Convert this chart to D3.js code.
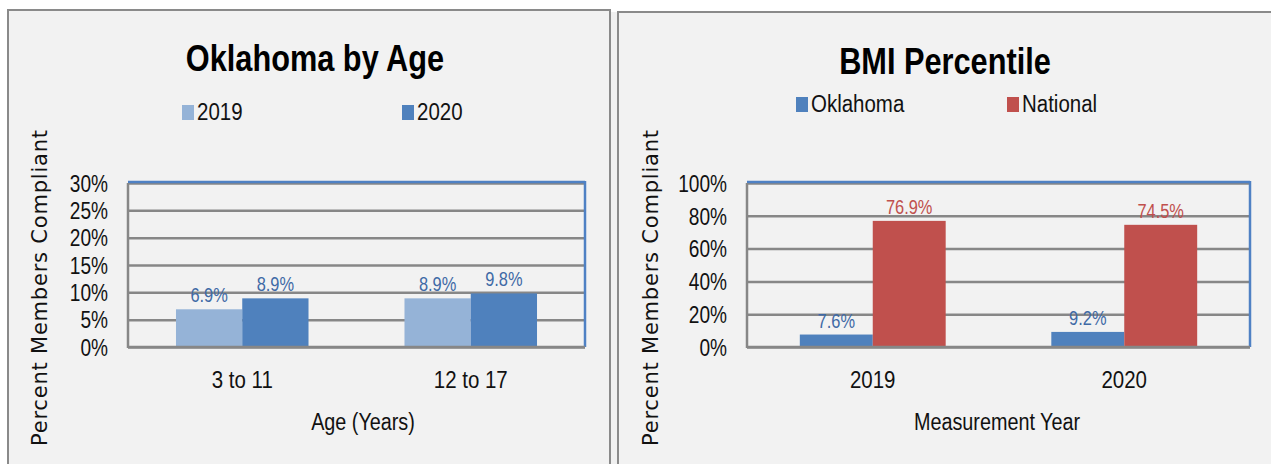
<!DOCTYPE html>
<html>
<head>
<meta charset="utf-8">
<script src="https://cdn.jsdelivr.net/npm/d3@7"></script>
<style>
  body { margin: 0; background: #fff; }
  svg text { font-family: "Liberation Sans", Arial, sans-serif; }
</style>
</head>
<body>
<div class="container"></div>
<script>
// chart 1 data
let ageGroups = ['3 to 11', '12 to 17']
let ageSeries = ['2019', '2020']
let age2019 = [6.9, 8.9]
let age2020 = [8.9, 9.8]
let ageTicks = [0, 5, 10, 15, 20, 25, 30]

// chart 2 data
let bmiYears = ['2019', '2020']
let bmiSeries = ['Oklahoma', 'National']
let bmiOklahoma = [7.6, 9.2]
let bmiNational = [76.9, 74.5]
let bmiTicks = [0, 20, 40, 60, 80, 100]

let svg = d3.select('.container')
    .append('svg')
    .attr('width', 1271)
    .attr('height', 464)

// squeeze text horizontally, the original font is a narrow one
function condense(sel, k) {
    sel.each(function () {
        let len = this.getComputedTextLength()
        d3.select(this)
            .attr('textLength', len * k)
            .attr('lengthAdjust', 'spacingAndGlyphs')
    })
}

// panel backgrounds
svg.append('rect').attr('x', 611).attr('y', 12).attr('width', 6).attr('height', 460).attr('fill', '#f0f0f0')
svg.append('rect')
    .attr('x', 8).attr('y', 10).attr('width', 602).attr('height', 470)
    .attr('fill', '#f2f2f2').attr('stroke', '#8a8a8a').attr('stroke-width', 2)
svg.append('rect')
    .attr('x', 618).attr('y', 12).attr('width', 680).attr('height', 470)
    .attr('fill', '#f2f2f2').attr('stroke', '#8a8a8a').attr('stroke-width', 2)

function drawChart(cfg) {
    let g = svg.append('g')
    let p = cfg.plot

    let x0 = d3.scaleBand()
        .domain(cfg.categories)
        .range([p.left, p.right])
        .paddingInner(0.42)
        .paddingOuter(0.21)
    let x1 = d3.scaleBand()
        .domain(cfg.series)
        .range([0, x0.bandwidth()])
    let y = d3.scaleLinear()
        .domain([0, cfg.max])
        .range([p.bottom, p.top])

    // gridlines
    let yAxis = d3.axisLeft(y)
        .tickValues(cfg.ticks)
        .tickSize(-(p.right - p.left))
        .tickPadding(20)
        .tickFormat(d => d + '%')
    let ax = g.append('g')
        .attr('transform', `translate(${p.left},0)`)
        .call(yAxis)
    ax.select('.domain').remove()
    ax.selectAll('.tick line')
        .attr('stroke', '#878787')
        .attr('stroke-width', 2.5)
    ax.selectAll('.tick text')
        .attr('fill', '#111')
        .style('font-size', '23px')
        .attr('dy', '0.36em')
        .call(condense, 0.83)

    // plot frame: blue top and right, gray left and bottom
    g.append('line').attr('x1', p.left).attr('x2', p.right).attr('y1', p.top - 1).attr('y2', p.top - 1)
        .attr('stroke', '#4f81c4').attr('stroke-width', 2.5)
    g.append('line').attr('x1', p.right).attr('x2', p.right).attr('y1', p.top - 2).attr('y2', p.bottom)
        .attr('stroke', '#4f81c4').attr('stroke-width', 2.5)
    g.append('line').attr('x1', p.left).attr('x2', p.left).attr('y1', p.top).attr('y2', p.bottom + 1)
        .attr('stroke', '#878787').attr('stroke-width', 2.5)

    // bars
    let rows = []
    cfg.categories.forEach((c, i) => {
        cfg.series.forEach((s, j) => {
            rows.push({ cat: c, ser: s, value: cfg.values[j][i], color: cfg.colors[j], label: cfg.labelColors[j] })
        })
    })
    g.selectAll('rect.bar')
        .data(rows)
        .enter()
        .append('rect')
        .attr('class', 'bar')
        .attr('x', d => x0(d.cat) + x1(d.ser))
        .attr('width', x1.bandwidth())
        .attr('y', d => y(d.value))
        .attr('height', d => y(0) - y(d.value))
        .attr('fill', d => d.color)

    g.append('line').attr('x1', p.left).attr('x2', p.right).attr('y1', p.bottom).attr('y2', p.bottom)
        .attr('stroke', '#878787').attr('stroke-width', 2.5)

    g.selectAll('text.val')
        .data(rows)
        .enter()
        .append('text')
        .attr('class', 'val')
        .attr('x', d => x0(d.cat) + x1(d.ser) + x1.bandwidth() / 2)
        .attr('y', d => y(d.value) - 7)
        .attr('text-anchor', 'middle')
        .attr('fill', d => d.label)
        .style('font-size', '20px')
        .text(d => d.value.toFixed(1) + '%')
        .call(condense, 0.82)

    // category labels
    g.selectAll('text.cat')
        .data(cfg.categories)
        .enter()
        .append('text')
        .attr('class', 'cat')
        .attr('x', d => x0(d) + x0.bandwidth() / 2)
        .attr('y', 388)
        .attr('text-anchor', 'middle')
        .attr('fill', '#111')
        .style('font-size', '23px')
        .text(d => d)
        .call(condense, 0.89)

    // titles
    g.append('text')
        .attr('x', cfg.titleX).attr('y', cfg.titleY)
        .attr('text-anchor', 'middle')
        .style('font-size', '37px').style('font-weight', 'bold')
        .attr('fill', '#000')
        .text(cfg.title)
        .call(condense, 0.83)
    g.append('text')
        .attr('x', cfg.xTitleX).attr('y', 430)
        .attr('text-anchor', 'middle')
        .style('font-size', '23px')
        .attr('fill', '#111')
        .text(cfg.xTitle)
        .call(condense, 0.86)
    g.append('text')
        .attr('transform', `translate(${cfg.yTitleX},288) rotate(-90)`)
        .attr('text-anchor', 'middle')
        .attr('dy', '0.35em')
        .style('font-family', '"DejaVu Sans", Verdana, sans-serif')
        .style('font-size', '21px')
        .attr('fill', '#111')
        .attr('textLength', 316)
        .attr('lengthAdjust', 'spacing')
        .text('Percent Members Compliant')

    // legend
    cfg.series.forEach((s, j) => {
        let lx = cfg.legendX[j]
        g.append('rect')
            .attr('x', lx).attr('y', cfg.legendY - 15)
            .attr('width', 12).attr('height', 15)
            .attr('fill', cfg.colors[j])
        g.append('text')
            .attr('x', lx + 15).attr('y', cfg.legendY)
            .style('font-size', '23px')
            .attr('fill', '#111')
            .text(s)
            .call(condense, 0.89)
    })
}

drawChart({
    categories: ageGroups,
    series: ageSeries,
    values: [age2019, age2020],
    colors: ['#95b3d7', '#4f81bd'],
    labelColors: ['#3f6aa6', '#3f6aa6'],
    max: 30,
    ticks: ageTicks,
    plot: { left: 128, right: 585, top: 183, bottom: 347 },
    title: 'Oklahoma by Age',
    titleX: 315, titleY: 71,
    xTitle: 'Age (Years)', xTitleX: 363,
    yTitleX: 40,
    legendX: [182, 402], legendY: 120
})

drawChart({
    categories: bmiYears,
    series: bmiSeries,
    values: [bmiOklahoma, bmiNational],
    colors: ['#4f81bd', '#c0504d'],
    labelColors: ['#3f6aa6', '#c0504d'],
    max: 100,
    ticks: bmiTicks,
    plot: { left: 747, right: 1250, top: 183, bottom: 347 },
    title: 'BMI Percentile',
    titleX: 945, titleY: 74,
    xTitle: 'Measurement Year', xTitleX: 997,
    yTitleX: 651,
    legendX: [796, 1007], legendY: 112
})
</script>
</body>
</html>
